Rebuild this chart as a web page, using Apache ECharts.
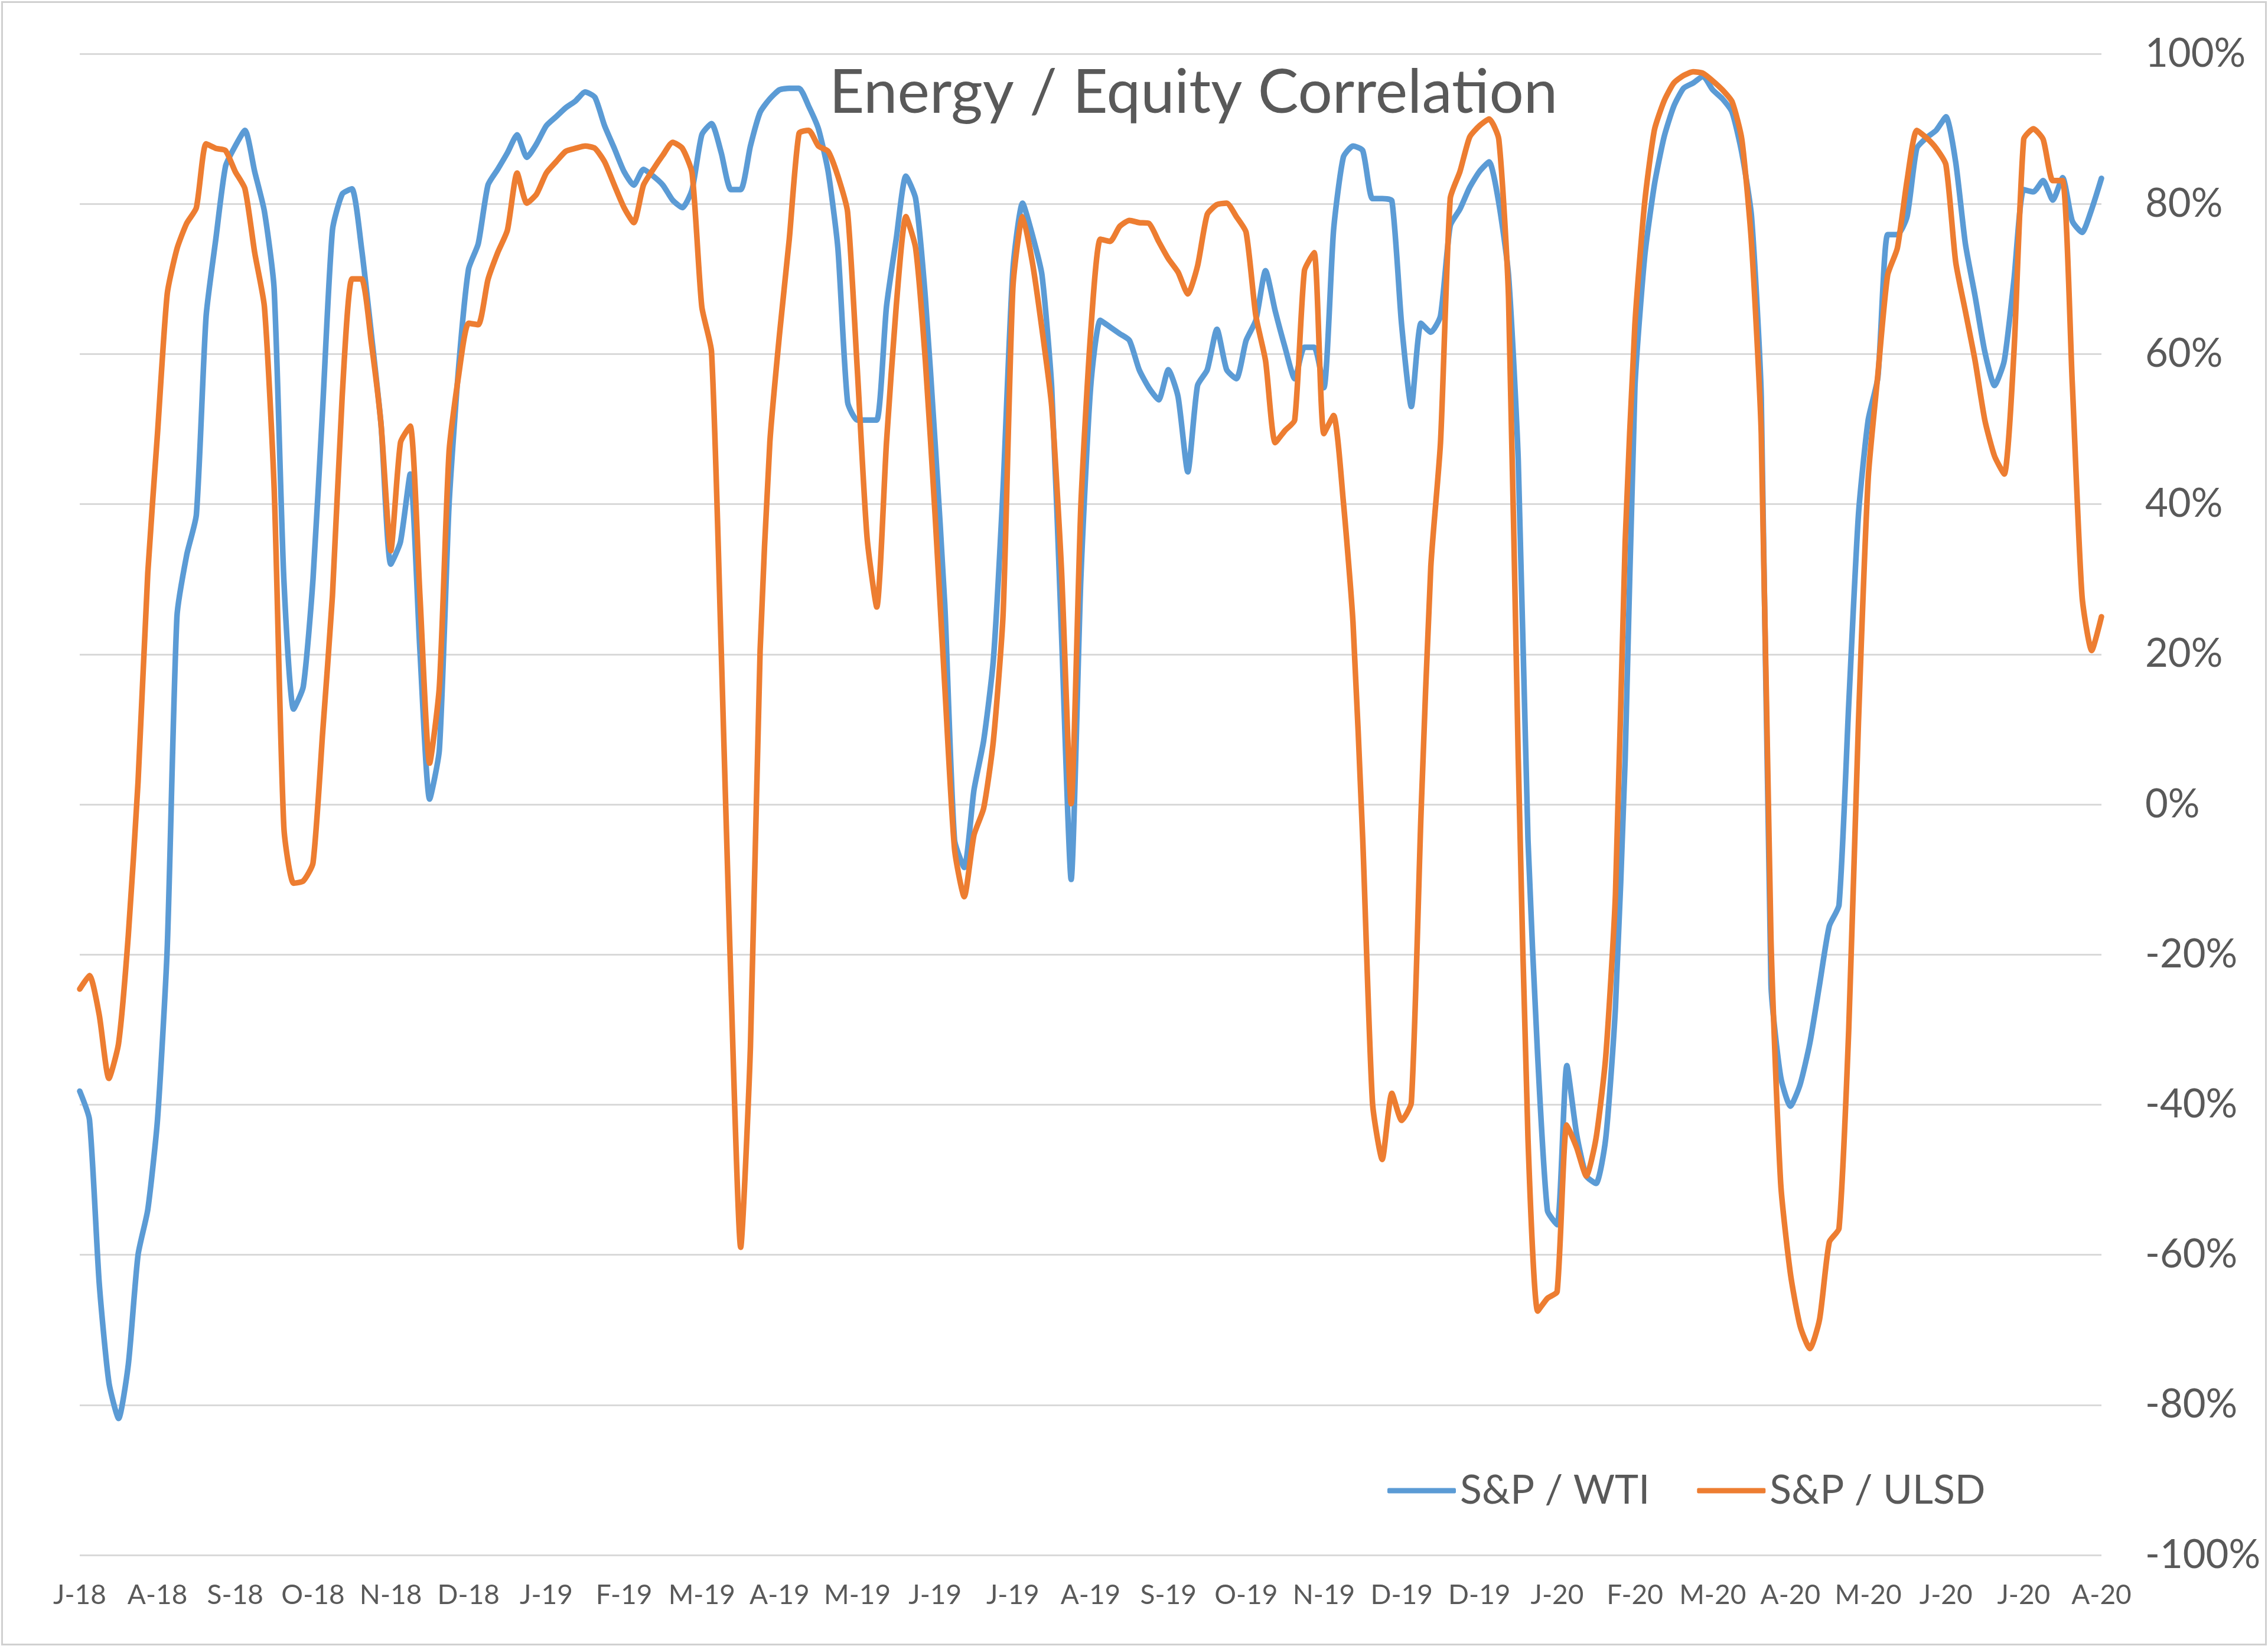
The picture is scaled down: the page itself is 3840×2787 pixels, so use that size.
<!DOCTYPE html>
<html>
<head>
<meta charset="utf-8">
<script src="https://cdn.jsdelivr.net/npm/echarts@6/dist/echarts.min.js"></script>
<style>
  html, body { margin: 0; padding: 0; background: #ffffff; }
  #chart { width: 3840px; height: 2787px; }
  #frame { position: absolute; left: 2px; top: 2px; width: 3830px; height: 2778px; border: 3px solid #D0D0D0; pointer-events: none; }
</style>
</head>
<body>
<div id="chart"></div>
<div id="frame"></div>
<script>
// Tick labels along the x axis (one every 8 observations)
const tickLabels = ['J-18','A-18','S-18','O-18','N-18','D-18','J-19','F-19','M-19','A-19','M-19','J-19','J-19','A-19','S-19','O-19','N-19','D-19','D-19','J-20','F-20','M-20','A-20','M-20','J-20','J-20','A-20'];
const pointsPerTick = 8;

// S&P / WTI correlation (%)
const spWti = [
-38.2,-42,-63.7,-77,-81.8,-74.6,-60,-54,-42,-19.2,
25,33.2,38.6,65,75.3,85,87.7,89.8,84.3,79,
68.7,30,12.7,15.7,30,53,76.5,81.3,82,74,
62.7,50.6,32,35,44,20.5,0.7,7.3,40,58.5,
71.3,74.7,82.5,84.6,86.8,89.2,86.2,88,90.4,91.6,
92.8,93.7,94.9,94.2,90.4,87.4,84.3,82.5,84.6,83.7,
82.5,80.5,79.5,81.9,89.2,90.7,86.8,81.9,81.9,87.7,
92.2,94,95.2,95.4,95.4,93,90,84.3,74.1,53.6,
51.2,51.2,51.2,66.3,75.3,83.7,80.7,67.5,48.2,26.6,
-4.7,-8.4,1.9,8.5,19.3,42.2,71.1,80.1,75.9,70.5,
55.5,23,-10,30.2,55.5,64.5,63.6,62.7,61.8,57.9,
55.5,53.9,57.9,54.3,44.3,55.8,57.9,63.3,57.9,56.7,
61.8,64.5,71.1,65.7,60.9,56.7,60.9,60.9,55.5,76.5,
86.2,87.7,87.1,80.7,80.7,80.4,63.9,53,64.1,62.9,
65.1,77.1,79.3,82.2,84.3,85.6,80.1,70.5,45.8,-4.7,
-33.6,-54.1,-56,-34.8,-43.9,-49.5,-50.5,-44.5,-27,6.1,
55.5,72.9,82.5,88.9,93,95.4,96.1,97,95.2,94,
92.2,86.8,78.3,54.3,-24,-36.3,-40.2,-37.3,-31.8,-24,
-16.2,-13.4,13.3,38.6,51.2,56.9,75.9,75.9,78.3,87.4,
88.8,89.8,91.6,85.6,74.7,67.7,60.3,55.8,59.1,69.9,
81.9,81.6,83.1,80.5,83.5,77.7,76.2,79.3,83.4
];

// S&P / ULSD correlation (%)
const spUlsd = [
-24.6,-22.8,-28,-36.5,-31.8,-17.4,3,30.8,49.4,68,
74,77.4,79.5,88,87.4,87.1,84.3,82,73.5,66.3,
42.2,-3,-10.5,-10.2,-7.8,9.7,27.8,54.3,70,70,
61.5,50.6,33.8,48.2,50.4,27.8,5.5,15.7,47,57.3,
64.1,63.9,69.9,73.5,76.5,84.1,80.1,81.3,84.1,85.6,
87,87.4,87.7,87.4,85.6,82.5,79.5,77.5,82.5,84.6,
86.5,88.2,87.4,84.1,66.3,60.3,20.5,-24,-59,-32.4,
20.5,48.2,62.7,75.3,89.4,89.8,87.7,87,83.7,78.9,
57.9,35.6,26.3,48.2,66.3,78.3,74.1,59.1,38.6,15.7,
-5.9,-12.3,-4.1,-0.5,8.5,25.4,68.7,78.3,72.3,63.3,
53,31.4,0.1,39.8,62.7,75.3,75,77,77.8,77.5,
77.4,75,72.7,70.9,68,71.7,78.6,79.9,80.1,78.3,
76.2,65.1,59.1,48.2,49.8,51.2,71.1,73.5,49.4,51.8,
40.4,24.2,-4.7,-39.7,-47.3,-38.5,-42.1,-39.7,-1.1,31.6,
48.2,80.7,84.3,88.9,90.4,91.3,88.6,67.5,6.1,-44.5,
-67.5,-65.8,-64.9,-42.7,-45.7,-49.5,-44.5,-33.6,-12,35,
63.9,80.1,89.8,93.7,96.1,97.1,97.6,97.4,96.4,95.2,
93.6,88.6,74.7,49.4,-18,-50.5,-62.5,-69.5,-72.5,-68.6,
-58.3,-56.5,-30,10.9,43.4,57.3,70.5,74.1,83.1,89.8,
88.8,87.4,85.2,72.3,65.7,59.1,51.2,46.4,44,60.3,
88.6,90,88.6,83.1,83.1,56.1,27.8,20.5,25
];

const seriesNames = ['S&P / WTI', 'S&P / ULSD'];
const seriesColors = ['#5B9BD5', '#ED7D31'];

const toPairs = arr => arr.map((v, i) => [i, v]);
const lastIndex = (tickLabels.length - 1) * pointsPerTick;

const chart = echarts.init(document.getElementById('chart'), null, { renderer: 'canvas' });
const font = 'Lato, "Open Sans", sans-serif';
chart.setOption({
  animation: false,
  backgroundColor: '#ffffff',
  title: {
    text: 'Energy / Equity Correlation',
    left: 1404,
    top: 106,
    padding: 0,
    textStyle: { fontFamily: font, fontSize: 103, fontWeight: 'normal', color: '#595959', lineHeight: 103 }
  },
  legend: {
    data: seriesNames,
    left: 2349,
    top: 2490,
    padding: 0,
    icon: 'roundRect',
    itemWidth: 116,
    itemHeight: 9,
    itemGap: 80,
    textStyle: { fontFamily: font, fontSize: 68, color: '#595959', padding: [0, 0, 0, 2] }
  },
  grid: { left: 135, right: 282, top: 91, bottom: 154, containLabel: false },
  xAxis: {
    type: 'value',
    min: 0,
    max: lastIndex,
    interval: pointsPerTick,
    axisLine: { show: false },
    axisTick: { show: false },
    splitLine: { show: false },
    axisLabel: {
      margin: 45,
      fontFamily: font,
      fontSize: 46,
      color: '#595959',
      showMinLabel: true,
      showMaxLabel: true,
      formatter: v => tickLabels[Math.round(v / pointsPerTick)] || ''
    }
  },
  yAxis: {
    type: 'value',
    position: 'right',
    min: -100,
    max: 100,
    interval: 20,
    axisLine: { show: false },
    axisTick: { show: false },
    splitLine: { show: true, lineStyle: { color: '#D9D9D9', width: 3 } },
    axisLabel: {
      margin: 74,
      fontFamily: font,
      fontSize: 67,
      color: '#595959',
      formatter: v => v + '%'
    }
  },
  series: [
    {
      name: seriesNames[0], type: 'line', data: toPairs(spWti),
      showSymbol: false, symbol: 'none', smooth: 0.2,
      lineStyle: { color: seriesColors[0], width: 9.5, cap: 'round', join: 'round' },
      itemStyle: { color: seriesColors[0] }
    },
    {
      name: seriesNames[1], type: 'line', data: toPairs(spUlsd),
      showSymbol: false, symbol: 'none', smooth: 0.2,
      lineStyle: { color: seriesColors[1], width: 9.5, cap: 'round', join: 'round' },
      itemStyle: { color: seriesColors[1] }
    }
  ]
});
</script>
</body>
</html>
